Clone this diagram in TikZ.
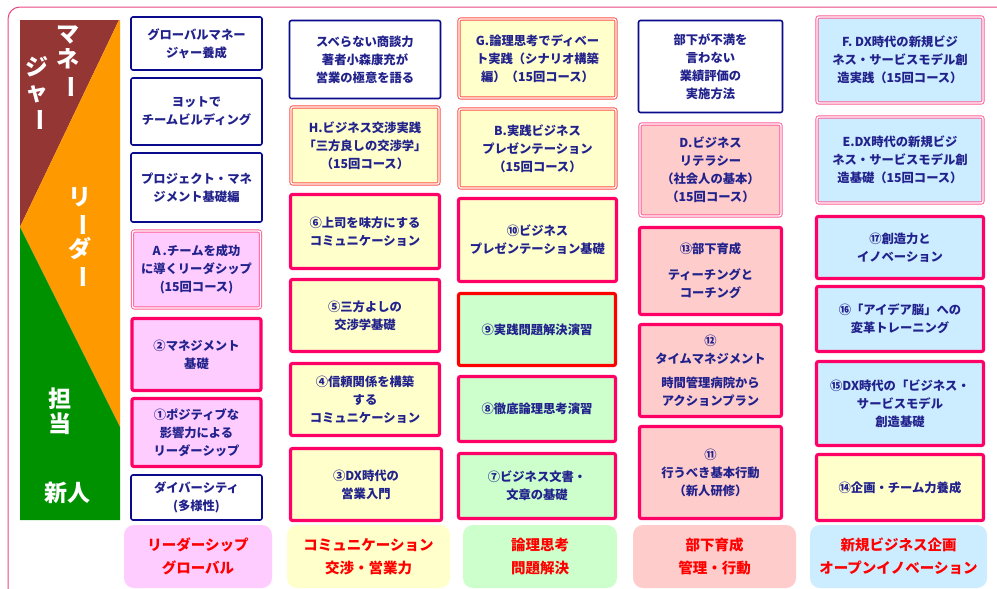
\documentclass[tikz,border=0pt]{standalone}
\usepackage{fontspec}
\usepackage{graphicx}
\usepackage{xcolor}
\newfontfamily\jp{Noto Sans CJK JP}
\definecolor{navytext}{RGB}{34,34,140}
\definecolor{navyline}{RGB}{10,10,140}
\definecolor{hotpink}{RGB}{255,0,102}
\definecolor{softpink}{RGB}{255,92,150}
\definecolor{softred}{RGB}{255,80,70}
\definecolor{pinkfill}{RGB}{255,204,255}
\definecolor{yellowfill}{RGB}{255,255,204}
\definecolor{greenfill}{RGB}{204,255,204}
\definecolor{salmonfill}{RGB}{255,204,204}
\definecolor{bluefill}{RGB}{204,236,255}
\definecolor{bandbrown}{RGB}{148,54,52}
\definecolor{bandorange}{RGB}{255,153,0}
\definecolor{bandgreen}{RGB}{0,145,0}
\definecolor{framepink}{RGB}{236,72,132}
\tikzset{
    base-box/.style = {rectangle, rounded corners=2pt, align=center, inner sep=2pt, text=navytext, font=\jp\bfseries\fontsize{12.3}{18}\selectfont},
    plain-box/.style = {base-box, draw=navyline, line width=1.6pt, fill=white},
    course-box/.style = {base-box, draw=#1, line width=0.9pt, double=white, double distance=1.4pt},
    seminar-box/.style = {base-box, draw=#1, line width=3.2pt},
    cat-box/.style = {rectangle, rounded corners=10pt, align=center, text=red, font=\jp\bfseries\fontsize{14.5}{23}\selectfont},
    band-text/.style = {text=white, align=center, font=\jp\bfseries\fontsize{23}{25}\selectfont},
}
\newcommand{\vbar}{\rotatebox[origin=c]{-90}{ー}}

\begin{document}
\begin{tikzpicture}[x=1pt,y=-1pt]
\useasboundingbox (0,0) rectangle (997,589);
\clip (0,0) rectangle (997,589);
\fill[white] (0,0) rectangle (997,589);
\draw[framepink, line width=1pt, rounded corners=12pt] (8,7) rectangle (1020,610);

% level band
\fill[bandbrown] (20,20) -- (119,20) -- (20,227) -- cycle;
\fill[bandorange] (119,20) -- (120,20) -- (120,427) -- (20,227) -- cycle;
\fill[bandgreen] (20,227) -- (120,427) -- (120,520) -- (20,520) -- cycle;
\node[band-text] (mgr-a) at (68,62) {マ\\ネ\\\vbar};
\node[band-text] (mgr-b) at (37,94) {ジ\\ャ\\\vbar};
\node[band-text] (leader) at (80,238) {リ\\\vbar\\ダ\\\vbar};
\node[band-text] (staff) at (60,411) {担\\当};
\node[band-text] (newbie) at (68,493) {新人};

% leadership / global
\node[plain-box, minimum width=131pt, minimum height=53pt] (glob) at (196.5,43.5) {グローバルマネー\\ジャー養成};
\node[plain-box, minimum width=131pt, minimum height=67pt] (yacht) at (196.5,111.5) {ヨットで\\チームビルディング};
\node[plain-box, minimum width=131pt, minimum height=69pt] (proj) at (196.5,187.5) {プロジェクト・マネ\\ジメント基礎編};
\node[course-box=softpink, fill=pinkfill, minimum width=128pt, minimum height=77pt] (lead-a) at (196.5,269.5) {A\,.チームを成功\\に導くリーダシップ\\(15回コース)};
\node[seminar-box=hotpink, fill=pinkfill, minimum width=129pt, minimum height=72pt] (lead-2) at (196.5,354.5) {②マネジメント\\基礎};
\node[seminar-box=hotpink, fill=pinkfill, minimum width=129pt, minimum height=68pt] (lead-1) at (196.5,432.5) {①ポジティブな\\影響力による\\リーダーシップ};
\node[plain-box, minimum width=131pt, minimum height=45pt] (divers) at (196.5,497.5) {ダイバーシティ\\(多様性)};
\node[cat-box, fill=pinkfill, minimum width=148pt, minimum height=63pt] (cat-lead) at (198,556.5) {リーダーシップ\\グローバル};

% communication / sales
\node[plain-box, minimum width=151pt, minimum height=78pt] (sales) at (365,59.5) {スベらない商談力\\著者小森康充が\\営業の極意を語る};
\node[course-box=softred, fill=yellowfill, minimum width=148pt, minimum height=77pt] (comm-h) at (365,145.5) {H.ビジネス交渉実践\\「三方良しの交渉学」\\（15回コース）};
\node[seminar-box=hotpink, fill=yellowfill, minimum width=149pt, minimum height=74pt] (comm-6) at (365,231.5) {⑥上司を味方にする\\コミュニケーション};
\node[seminar-box=hotpink, fill=yellowfill, minimum width=149pt, minimum height=72pt] (comm-5) at (365,315.5) {⑤三方よしの\\交渉学基礎};
\node[seminar-box=hotpink, fill=yellowfill, minimum width=149pt, minimum height=72pt] (comm-4) at (365,399.5) {④信頼関係を構築\\する\\コミュニケーション};
\node[seminar-box=hotpink, fill=yellowfill, minimum width=151pt, minimum height=72pt] (comm-3) at (366,484.5) {③DX時代の\\営業入門};
\node[cat-box, fill=yellowfill, minimum width=163pt, minimum height=63pt] (cat-comm) at (368.5,556.5) {コミュニケーション\\交渉・営業力};

% logic / problem solving
\node[course-box=softred, fill=yellowfill, minimum width=157pt, minimum height=79pt] (logic-g) at (537.5,58.5) {G.論理思考でディベー\\ト実践（シナリオ構築\\編）（15回コース）};
\node[course-box=softred, fill=yellowfill, minimum width=157pt, minimum height=79pt] (logic-b) at (537.5,148.5) {B.実践ビジネス\\プレゼンテーション\\（15回コース）};
\node[seminar-box=hotpink, fill=yellowfill, minimum width=158pt, minimum height=83pt] (logic-10) at (537.5,240) {⑩ビジネス\\プレゼンテーション基礎};
\node[seminar-box=red, fill=greenfill, minimum width=157pt, minimum height=72pt] (logic-9) at (537,329.5) {⑨実践問題解決演習};
\node[seminar-box=hotpink, fill=greenfill, minimum width=157pt, minimum height=65pt] (logic-8) at (537,409) {⑧徹底論理思考演習};
\node[seminar-box=hotpink, fill=greenfill, minimum width=157pt, minimum height=65pt] (logic-7) at (537,486) {⑦ビジネス文書・\\文章の基礎};
\node[cat-box, fill=greenfill, minimum width=154pt, minimum height=63pt] (cat-logic) at (540,556.5) {論理思考\\問題解決};

% subordinate development
\node[plain-box, minimum width=144pt, minimum height=92pt] (review) at (710.5,66.5) {部下が不満を\\言わない\\業績評価の\\実施方法};
\node[course-box=softpink, fill=salmonfill, minimum width=141pt, minimum height=92pt] (dev-d) at (710.5,170) {D.ビジネス\\リテラシー\\（社会人の基本）\\（15回コース）};
\node[seminar-box=hotpink, fill=salmonfill, minimum width=142pt, minimum height=87pt] (dev-13) at (710.5,271) {⑬部下育成\\[8pt]ティーチングと\\コーチング};
\node[seminar-box=hotpink, fill=salmonfill, minimum width=142pt, minimum height=92pt] (dev-12) at (710.5,370.5) {⑫\\タイムマネジメント\\[6pt]時間管理病院から\\アクションプラン};
\node[seminar-box=hotpink, fill=salmonfill, minimum width=142pt, minimum height=92pt] (dev-11) at (710.5,472.5) {⑪\\行うべき基本行動\\（新人研修）};
\node[cat-box, fill=salmonfill, minimum width=163pt, minimum height=63pt] (cat-dev) at (714.5,556.5) {部下育成\\管理・行動};

% new business / innovation
\node[course-box=softpink, fill=bluefill, minimum width=166pt, minimum height=86pt] (biz-f) at (900,60) {F. DX時代の新規ビジ\\ネス・サービスモデル創\\造実践（15回コース）};
\node[course-box=softpink, fill=bluefill, minimum width=166pt, minimum height=86pt] (biz-e) at (900,160) {E.DX時代の新規ビジ\\ネス・サービスモデル創\\造基礎（15回コース）};
\node[seminar-box=hotpink, fill=bluefill, minimum width=167pt, minimum height=62pt] (biz-17) at (900,247.5) {⑰創造力と\\イノベーション};
\node[seminar-box=hotpink, fill=bluefill, minimum width=167pt, minimum height=65pt] (biz-16) at (900,319) {⑯「アイデア脳」への\\変革トレーニング};
\node[seminar-box=hotpink, fill=bluefill, minimum width=167pt, minimum height=84pt] (biz-15) at (900,403.5) {⑮DX時代の「ビジネス・\\サービスモデル\\創造基礎};
\node[seminar-box=hotpink, fill=yellowfill, minimum width=167pt, minimum height=66pt] (biz-14) at (900,487.5) {⑭企画・チーム力養成};
\node[cat-box, fill=bluefill, minimum width=177pt, minimum height=63pt] (cat-biz) at (898.5,556.5) {新規ビジネス企画\\オープンイノベーション};
\end{tikzpicture}
\end{document}
